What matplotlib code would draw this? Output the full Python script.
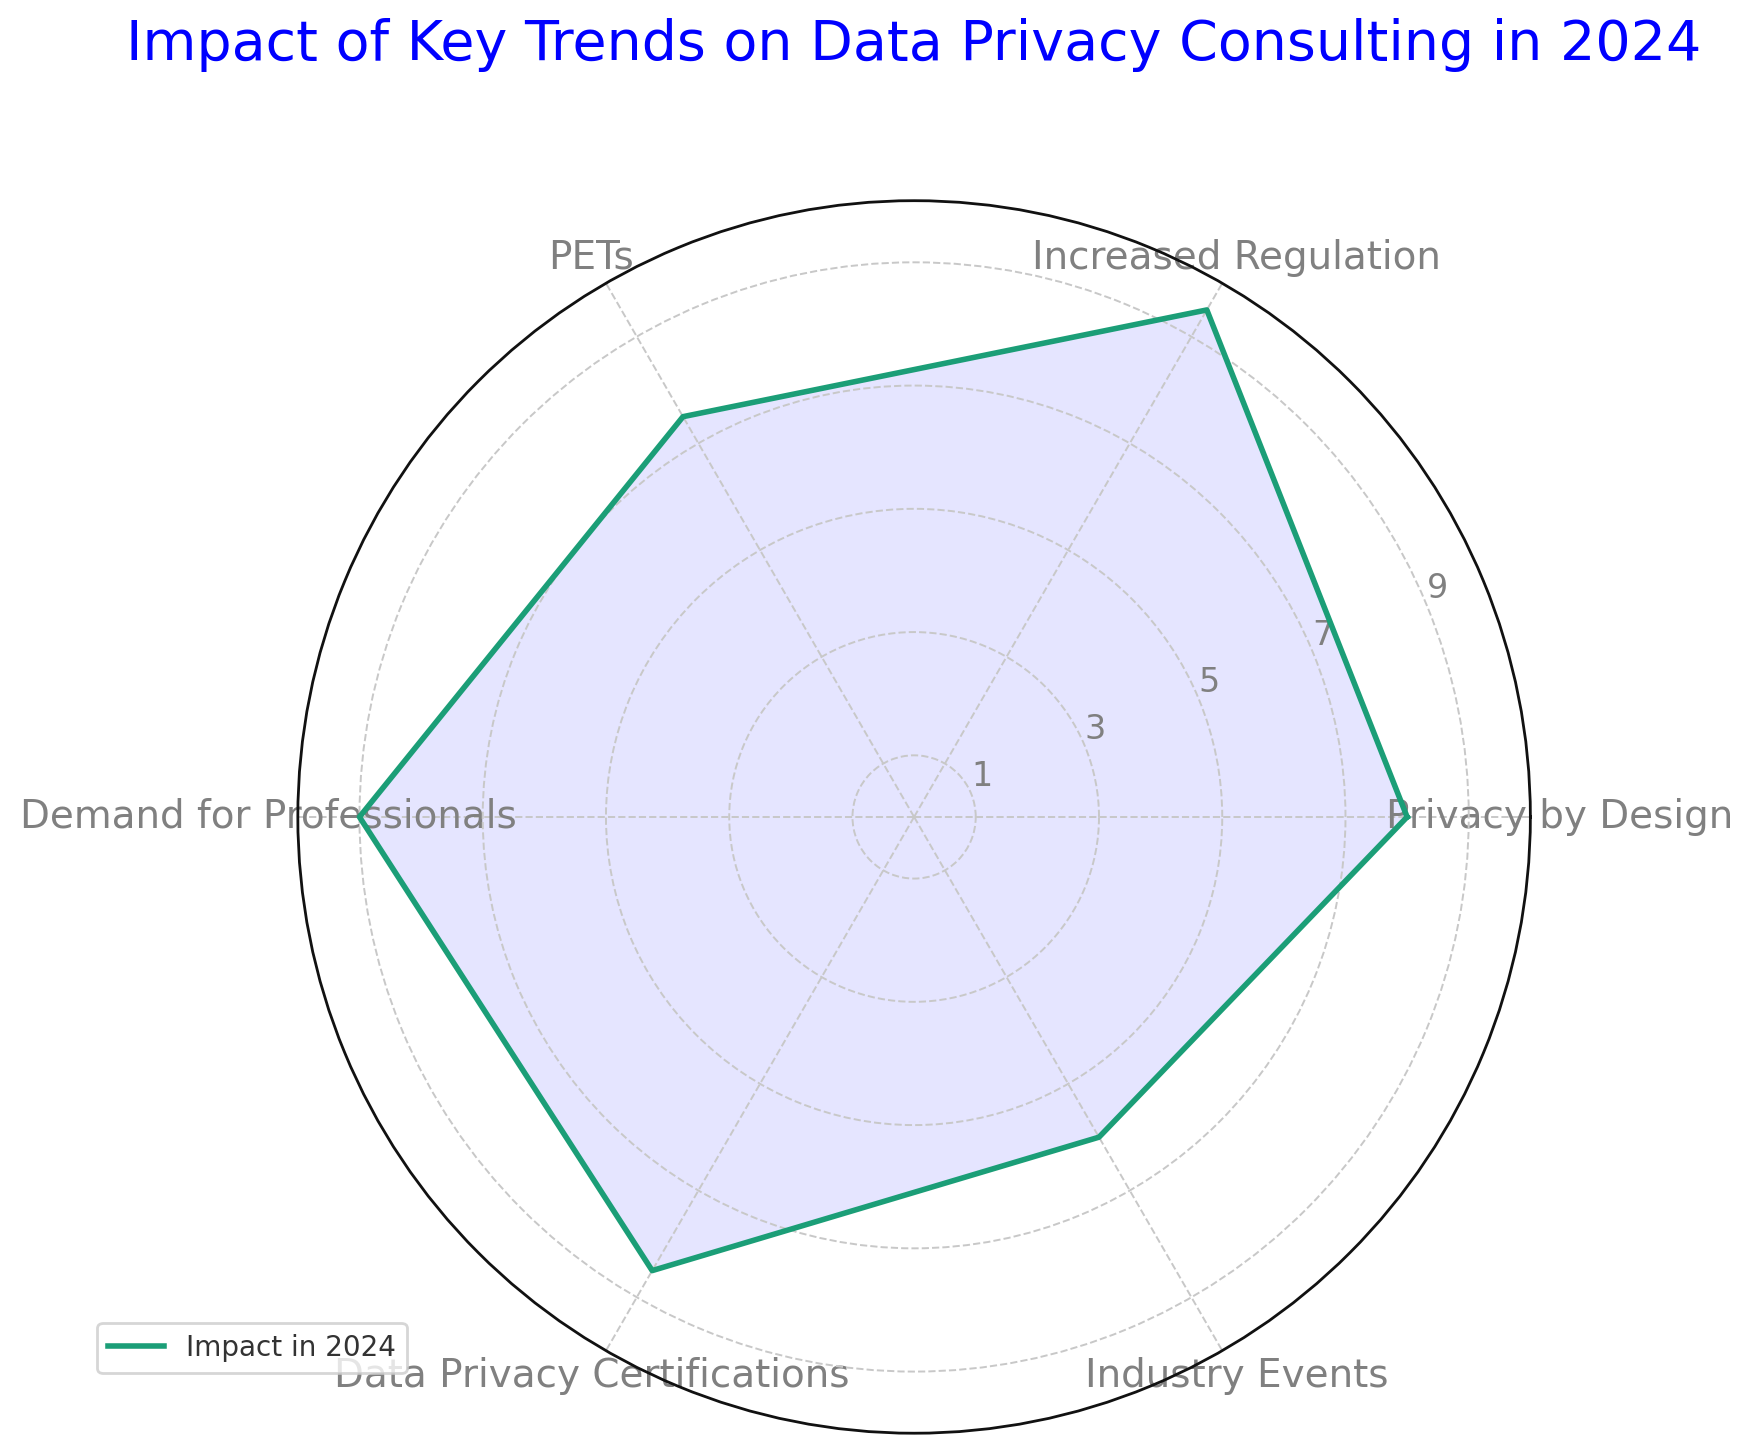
import matplotlib
matplotlib.use("Agg")
import matplotlib.pyplot as plt
import numpy as np

# Datos del gráfico
categorias = ["Privacy by Design", "Increased Regulation", "PETs",
              "Demand for Professionals", "Data Privacy Certifications",
              "Industry Events"]
impacto = [8, 9.5, 7.5, 9, 8.5, 6]
ticks_r = [1, 3, 5, 7, 9]

n = len(categorias)
angulos = np.linspace(0, 2 * np.pi, n, endpoint=False).tolist()
valores = impacto + impacto[:1]
angulos_c = angulos + angulos[:1]

fig = plt.figure(figsize=(8.76, 7.265), dpi=200)
ax = fig.add_axes([0.17, 0.0136, 0.7035, 0.8483], polar=True)

ax.fill(angulos_c, valores, color="blue", alpha=0.1)
ax.plot(angulos_c, valores, color="#1b9e77", linewidth=2, label="Impact in 2024")

ax.set_ylim(0, 10)
ax.set_xticks(angulos)
ax.set_xticklabels(categorias, fontsize=14, color="grey")
ax.tick_params(axis="x", pad=0)
ax.set_yticks(ticks_r)
ax.set_yticklabels([str(t) for t in ticks_r], fontsize=12, color="grey")
ax.set_rlabel_position(22.5)
ax.grid(True, color="#c8c8c8", linestyle="--", linewidth=0.7)
ax.spines["polar"].set_color("#111111")
ax.spines["polar"].set_linewidth(1.0)

fig.text(0.5217, 0.969, "Impact of Key Trends on Data Privacy Consulting in 2024",
         fontsize=20, color="blue", ha="center", va="center")

leg = ax.legend(loc="lower left", bbox_to_anchor=(0.0554, 0.055),
                bbox_transform=fig.transFigure, borderaxespad=0, fontsize=10)
for t in leg.get_texts():
    t.set_color("#333333")

fig.savefig("out.png", dpi=200)
